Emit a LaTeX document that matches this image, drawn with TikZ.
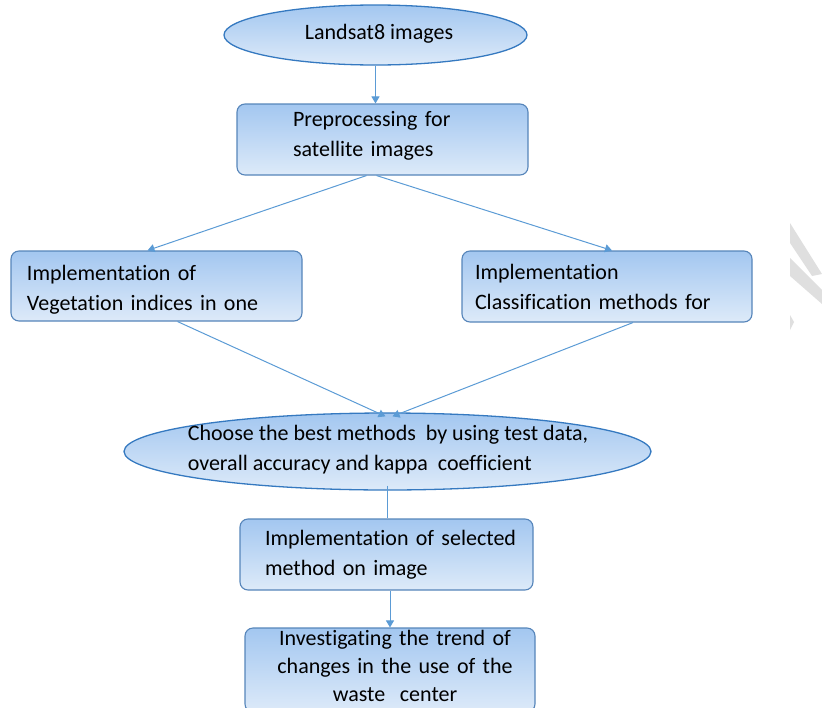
\documentclass[tikz,border=0pt]{standalone}
\usepackage{fontspec}
\setmainfont{Carlito}[Ligatures=NoCommon]
\usetikzlibrary{shapes.geometric,arrows.meta}

\definecolor{boxtop}{HTML}{A3C7F0}
\definecolor{boxbot}{HTML}{DDEAF9}
\definecolor{boxline}{HTML}{5685BA}
\definecolor{ovalline}{HTML}{3579C0}
\definecolor{arrowblue}{HTML}{5B9BD5}

\tikzset{
	flowbox/.style={draw=boxline, line width=1.1pt, rounded corners=8pt,
		top color=boxtop, bottom color=boxbot, align=left, inner ysep=0pt,
		font=\fontsize{22}{30}\selectfont},
	oval/.style={ellipse, draw=ovalline, line width=1.3pt, inner sep=0pt,
		top color=boxtop, bottom color=boxbot},
	flowarrow/.style={draw=arrowblue, line width=1pt, -{Triangle[width=8pt,length=7pt]}},
	flowline/.style={draw=arrowblue, line width=1pt}
}

\begin{document}
\begin{tikzpicture}[x=1pt, y=-1pt]
	\useasboundingbox (0, 0) rectangle (822, 707);
	\clip (0, 0) rectangle (822, 707);

	\node[oval, minimum width=303pt, minimum height=60pt] (landsat) at (375.5, 35) {};
	\node[font=\fontsize{22}{30}\selectfont] (landsattext) at (379, 34) {Landsat8 images};

	\node[flowbox, text width=179pt, inner xsep=56pt, minimum height=71pt, text height=7pt] (prep) at (382.5, 139.5)
		{Preprocessing for\\satellite images};

	\node[flowbox, text width=259pt, inner xsep=16pt, minimum height=70pt, text height=23pt] (veg) at (156.5, 286)
		{Implementation of\\Vegetation indices in one};
	\node[flowbox, text width=264pt, inner xsep=13pt, minimum height=71pt] (class) at (607, 286.5)
		{Implementation\\Classification methods for};

	\node[oval, minimum width=527pt, minimum height=77pt] (best) at (387.5, 451.5) {};
	\node[font=\fontsize{22}{30}\selectfont, align=left] (besttext) at (388, 450)
		{Choose the best methods \ by using test data,\\overall accuracy and kappa \ coefficient};

	\node[flowbox, text width=243pt, inner xsep=25pt, minimum height=71pt] (select) at (386.5, 554.5)
		{\mbox{Implementation of selected}\\method on image};

	\node[flowbox, text width=270pt, inner xsep=10pt, minimum height=84pt, align=center,
		font=\fontsize{22}{28}\selectfont, text height=7pt] (trend) at (390, 670)
		{\hspace{10pt}Investigating the trend of\\\hspace{10pt}changes in the use of the\\\hspace{10pt}waste \ center};

	\draw[flowarrow] (landsat.south) -- (prep.north -| landsat.south);
	\draw[flowarrow] ([xshift=-16pt]prep.south) -- ([xshift=-9pt]veg.north);
	\draw[flowarrow] ([xshift=-6pt]prep.south) -- ([xshift=5pt]class.north);
	\draw[flowarrow] ([xshift=21pt]veg.south) -- ([xshift=-2pt, yshift=-4pt]best.north);
	\draw[flowarrow] ([xshift=26pt]class.south) -- ([xshift=5pt, yshift=-4pt]best.north);
	\draw[flowline] ([yshift=5pt]best.south) -- (best.south |- select.north);
	\draw[flowarrow] ([xshift=3.5pt]select.south) -- ([xshift=3.5pt]select.south |- trend.north);

	% watermark fragment
	\fill[gray!25] (790, 223) -- (822, 274) -- (812, 276) -- (790, 243) -- cycle;
	\fill[gray!25] (790, 258) -- (822, 290) -- (822, 304) -- (790, 276) -- cycle;
	\fill[gray!25] (790, 315) -- (794, 322) -- (790, 330) -- cycle;

\end{tikzpicture}
\end{document}
